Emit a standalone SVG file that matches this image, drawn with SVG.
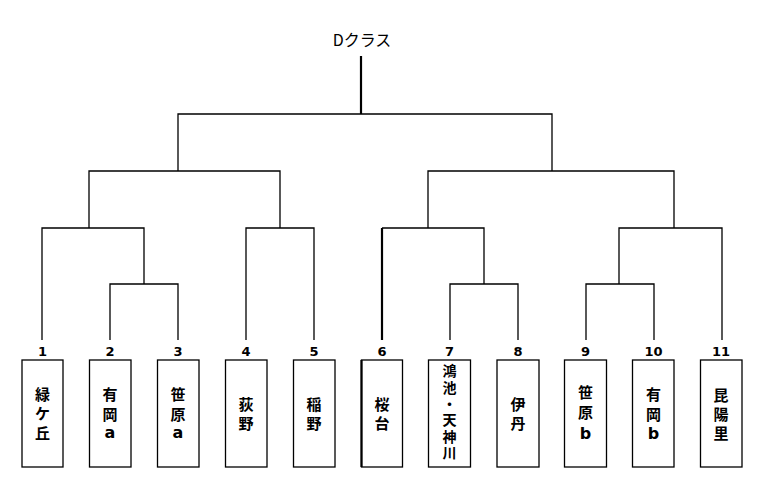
<svg xmlns="http://www.w3.org/2000/svg" width="765" height="487" viewBox="0 0 765 487">
<style>
  .ln { stroke: #000; stroke-width: 1.3; fill: none; }
  .thick { stroke: #000; stroke-width: 2.2; fill: none; }
  .box { stroke: #000; stroke-width: 1.3; fill: #fff; }
  .num { font-family: "DejaVu Sans", "Liberation Sans", sans-serif; font-size: 13px; font-weight: bold; text-anchor: middle; fill: #000; }
  .nm { font-family: "Noto Sans CJK JP", "Noto Sans", sans-serif; font-size: 15px; font-weight: bold; text-anchor: middle; fill: #000; }
  .nm7 { font-family: "Noto Sans CJK JP", "Noto Sans", sans-serif; font-size: 14px; font-weight: bold; fill: #000; writing-mode: vertical-rl; text-orientation: upright; letter-spacing: 2.3px; }
  .lat { font-family: "DejaVu Sans", "Liberation Sans", sans-serif; font-size: 16px; font-weight: bold; }
  .title { font-family: "Noto Sans CJK JP", "Noto Sans", sans-serif; font-size: 16px; text-anchor: middle; fill: #000; }
</style>
<rect width="765" height="487" fill="#fff"/>
<text id="title" class="title" x="362" y="46">Dクラス</text>
<g id="connectors">
  <line class="thick" x1="361" y1="56" x2="361" y2="114"/>
  <path class="ln" d="M178 171 V114 H552 V171"/>
  <path class="ln" d="M89 228 V171 H280 V228"/>
  <path class="ln" d="M428 228 V171 H674 V228"/>
  <path class="ln" d="M42 340 V228 H144 V284"/>
  <path class="ln" d="M110 340 V284 H178 V340"/>
  <path class="ln" d="M246 340 V228 H314 V340"/>
  <path class="ln" d="M382 228 H484 V284"/>
  <line class="thick" x1="382" y1="228" x2="382" y2="340"/>
  <path class="ln" d="M450 340 V284 H518 V340"/>
  <path class="ln" d="M619 284 V228 H722 V340"/>
  <path class="ln" d="M586 340 V284 H654 V340"/>
</g>
<g id="n1"><rect class="box" x="22" y="360" width="41" height="107"/><text class="num" x="42.5" y="356">1</text>
  <text class="nm"><tspan x="42.5" y="400">緑</tspan><tspan x="42.5" y="419">ケ</tspan><tspan x="42.5" y="439">丘</tspan></text></g>
<g id="n2"><rect class="box" x="89.5" y="360" width="41.5" height="107"/><text class="num" x="110" y="356">2</text>
  <text class="nm"><tspan x="110" y="400">有</tspan><tspan x="110" y="420">岡</tspan><tspan class="lat" x="110" y="438">a</tspan></text></g>
<g id="n3"><rect class="box" x="157.5" y="360" width="41.5" height="107"/><text class="num" x="178" y="356">3</text>
  <text class="nm"><tspan x="178" y="400">笹</tspan><tspan x="178" y="420">原</tspan><tspan class="lat" x="178" y="438">a</tspan></text></g>
<g id="n4"><rect class="box" x="225.5" y="360" width="41.5" height="107"/><text class="num" x="246" y="356">4</text>
  <text class="nm"><tspan x="246" y="410">荻</tspan><tspan x="246" y="429">野</tspan></text></g>
<g id="n5"><rect class="box" x="293.5" y="360" width="41.5" height="107"/><text class="num" x="314" y="356">5</text>
  <text class="nm"><tspan x="314" y="410">稲</tspan><tspan x="314" y="429">野</tspan></text></g>
<g id="n6"><rect class="box" x="361.5" y="360" width="41" height="107"/><line class="thick" x1="361.5" y1="360" x2="361.5" y2="467"/><text class="num" x="382" y="356">6</text>
  <text class="nm"><tspan x="382" y="410">桜</tspan><tspan x="382" y="429">台</tspan></text></g>
<g id="n7"><rect class="box" x="428.5" y="360" width="42" height="107"/><text class="num" x="449.5" y="356">7</text>
  <text class="nm7" x="449.5" y="364">鴻池・天神川</text></g>
<g id="n8"><rect class="box" x="497" y="360" width="42" height="107"/><text class="num" x="518" y="356">8</text>
  <text class="nm"><tspan x="518" y="410">伊</tspan><tspan x="518" y="429">丹</tspan></text></g>
<g id="n9"><rect class="box" x="564.5" y="360" width="42" height="107"/><text class="num" x="585.5" y="356">9</text>
  <text class="nm"><tspan x="585.5" y="398">笹</tspan><tspan x="585.5" y="418">原</tspan><tspan class="lat" x="585.5" y="439">b</tspan></text></g>
<g id="n10"><rect class="box" x="632.5" y="360" width="41.5" height="107"/><text class="num" x="653.5" y="356">10</text>
  <text class="nm"><tspan x="653.5" y="400">有</tspan><tspan x="653.5" y="420">岡</tspan><tspan class="lat" x="653.5" y="439">b</tspan></text></g>
<g id="n11"><rect class="box" x="700.5" y="360" width="41.5" height="107"/><text class="num" x="721" y="356">11</text>
  <text class="nm"><tspan x="721" y="401">昆</tspan><tspan x="721" y="420">陽</tspan><tspan x="721" y="439">里</tspan></text></g>
</svg>
